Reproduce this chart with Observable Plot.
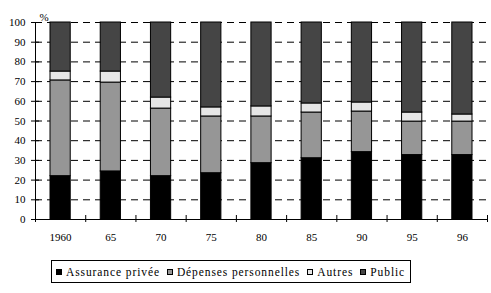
<!DOCTYPE html>
<html><head><meta charset="utf-8">
<style>
html,body{margin:0;padding:0;background:#fff;}
#wrap{position:relative;width:491px;height:293px;font-family:'Liberation Serif','DejaVu Serif',serif;color:#000;}
#wrap svg{position:absolute;left:0;top:0;}
#legend{position:absolute;left:51px;top:260px;width:358px;height:21px;border:1px solid #000;display:flex;align-items:center;font-size:11.5px;letter-spacing:0.9px;white-space:nowrap;background:#fff;}
#legend .item{display:flex;align-items:center;margin-left:4px;margin-right:3px;}
#legend .sw{width:4px;height:4px;border:1px solid #000;margin-right:4px;}
</style>
<script src="https://cdn.jsdelivr.net/npm/d3@7"></script>
<script src="https://cdn.jsdelivr.net/npm/@observablehq/plot@0.6"></script>
</head><body><div id="wrap"></div>
<script>
const years = ["1960","65","70","75","80","85","90","95","96"];
const seriesNames = ["Assurance privée","Dépenses personnelles","Autres","Public"];
const assurancePrivee = [22.0,24.4,22.0,23.5,28.6,31.1,34.2,32.7,32.7];
const depensesPersonnelles = [48.6,45.1,34.3,28.8,23.7,23.2,20.6,17.0,17.0];
const autres = [4.5,5.6,5.6,4.6,5.1,4.6,4.6,4.6,3.6];
const publicShare = [24.9,24.9,38.1,43.1,42.6,41.1,40.6,45.7,46.7];
const yTicks = [0,10,20,30,40,50,60,70,80,90,100];
const colors = ["#000000","#969696","#e6e6e6","#454545"];

const seriesValues = [assurancePrivee, depensesPersonnelles, autres, publicShare];
const rows = [];
years.forEach((yr, i) => {
  let acc = 0;
  seriesNames.forEach((s, k) => {
    const v = seriesValues[k][i];
    rows.push({i, i2: i + 1, year: yr, series: s, y1: acc, y2: acc + v});
    acc += v;
  });
});
const xEdges = d3.range(0, years.length + 1);
const xCenters = years.map((d, i) => i + 0.5);

const chart = Plot.plot({
  width: 491, height: 293,
  marginLeft: 35, marginRight: 4, marginTop: 22, marginBottom: 74,
  style: {fontFamily: "Liberation Serif, DejaVu Serif, serif", fontSize: "11px", background: "transparent", color: "#000"},
  x: {type: "linear", domain: [0, years.length]},
  y: {domain: [0, 100]},
  color: {domain: seriesNames, range: colors},
  marks: [
    Plot.ruleY(yTicks.filter(d => d > 0), {stroke: "#000", strokeDasharray: "7,5"}),
    Plot.rect(rows, {x1: "i", x2: "i2", y1: "y1", y2: "y2", fill: "series", stroke: "#000", strokeWidth: 1, insetLeft: 15, insetRight: 15}),
    Plot.ruleY([0], {stroke: "#000"}),
    Plot.ruleX([0], {y1: 0, y2: 100, stroke: "#000"}),
    Plot.axisY({ticks: yTicks, tickSize: 8, dx: 4, fill: "none", label: null}),
    Plot.axisY({ticks: yTicks, tickSize: 0, tickPadding: 10, stroke: "none", label: null, fontFamily: "Liberation Serif, serif"}),
    Plot.axisX({ticks: xEdges, tickSize: 7, dy: -4, fill: "none", label: null}),
    Plot.axisX({ticks: xCenters, tickSize: 0, tickPadding: 14, stroke: "none", label: null, fontFamily: "Liberation Serif, serif", tickFormat: d => years[Math.floor(d)]}),
    Plot.text(["%"], {frameAnchor: "top-left", dx: 4, dy: -9, text: d => d, fontFamily: "Liberation Serif, serif"})
  ]
});
const wrap = document.getElementById("wrap");
wrap.appendChild(chart);
const legend = document.createElement("div");
legend.id = "legend";
seriesNames.forEach((s, k) => {
  const it = document.createElement("div");
  it.className = "item";
  const sw = document.createElement("div");
  sw.className = "sw";
  sw.style.background = colors[k];
  const t = document.createElement("span");
  t.textContent = s;
  it.appendChild(sw); it.appendChild(t);
  legend.appendChild(it);
});
wrap.appendChild(legend);
</script>
</body></html>
